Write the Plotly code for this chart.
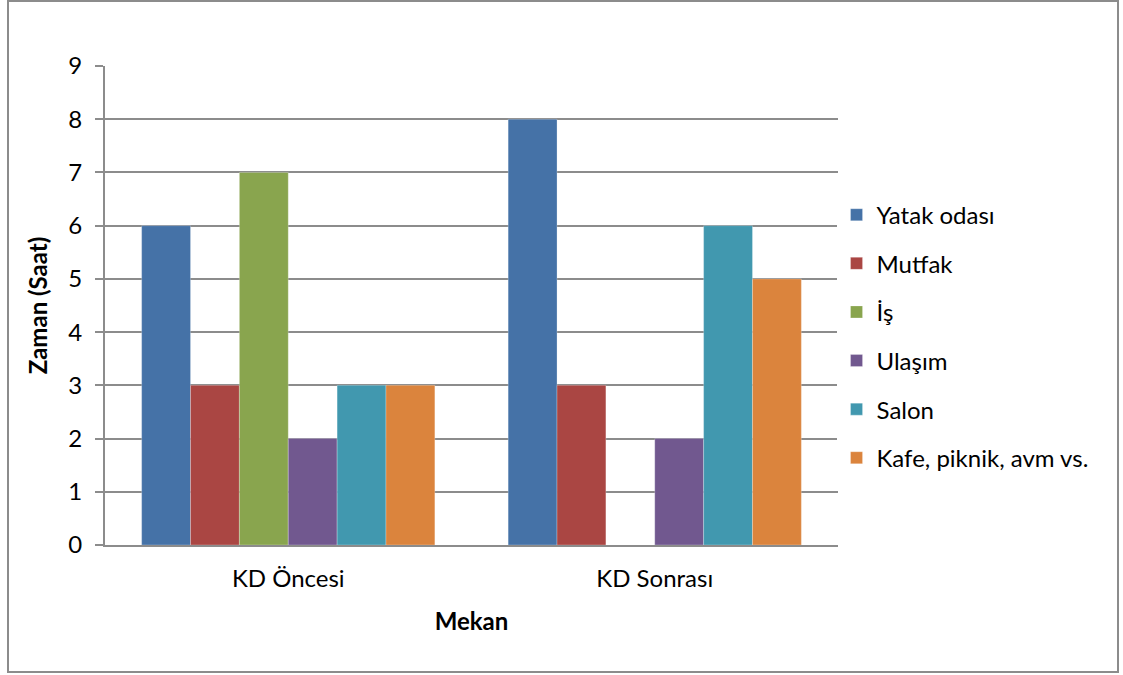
import plotly.graph_objects as go

# Mekan categories and hours per location
categories = ["KD Öncesi", "KD Sonrası"]
series_names = ["Yatak odası", "Mutfak", "İş", "Ulaşım", "Salon", "Kafe, piknik, avm vs."]
yatak_odasi = [6, 8]
mutfak = [3, 3]
is_ = [7, 0]
ulasim = [2, 2]
salon = [3, 6]
kafe = [3, 5]
y_ticks = [0, 1, 2, 3, 4, 5, 6, 7, 8, 9]

series_values = [yatak_odasi, mutfak, is_, ulasim, salon, kafe]
colors = ["#4572A7", "#AA4643", "#89A54E", "#71588F", "#4198AF", "#DB843D"]

FONT = "Lato"
FS = 24
W, H = 1123, 675
L, R, T, B = 105, 838, 66, 545  # plot area in pixels

fig = go.Figure()
for name, vals, col in zip(series_names, series_values, colors):
    fig.add_trace(go.Bar(
        x=categories, y=vals, name=name, legendgroup=name,
        marker=dict(color=col, line=dict(color="rgba(255,255,255,0.5)", width=0.5)),
    ))

pw, ph = R - L, B - T
# outer chart border
fig.add_shape(type="rect", xref="paper", yref="paper",
              x0=(8 - L) / pw, x1=(1118 - L) / pw,
              y0=(B - 672) / ph, y1=(B - 1) / ph,
              line=dict(color="#8c8c8c", width=2), layer="below")

fig.update_layout(
    width=W, height=H,
    margin=dict(l=L, r=W - R, t=T, b=H - B),
    paper_bgcolor="white", plot_bgcolor="white",
    barmode="group", bargap=0.2, bargroupgap=0,
    font=dict(family=FONT, size=FS, color="black"),
    legend=dict(x=0.998, xanchor="left", y=0.435, yanchor="middle",
                font=dict(size=FS), tracegroupgap=14.4, itemwidth=30),
    xaxis=dict(showline=True, linecolor="#8c8c8c", linewidth=2, ticks="",
               ticklabelstandoff=11,
               title=dict(text="<b>Mekan</b>", font=dict(size=FS), standoff=22)),
    yaxis=dict(range=[0, 9], tickvals=y_ticks, showline=True, linecolor="#8c8c8c",
               linewidth=2, ticks="outside", ticklen=8, tickcolor="#8c8c8c", tickwidth=2,
               gridcolor="#8c8c8c", gridwidth=1.5, zeroline=False, ticklabelstandoff=8,
               title=dict(text="<b>Zaman (Saat)</b>", font=dict(size=FS), standoff=14)),
)

fig.write_html("out.html", config={"displayModeBar": False},
               post_script="document.body.style.margin='0';")
